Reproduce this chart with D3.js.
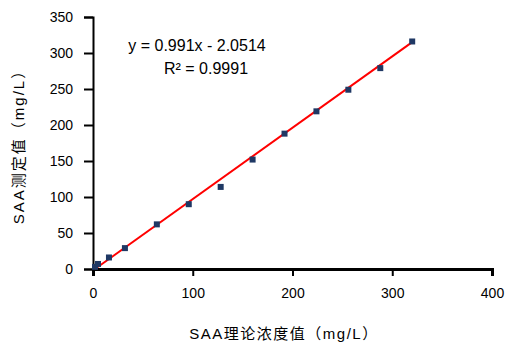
<!DOCTYPE html>
<html><head><meta charset="utf-8">
<script src="https://cdn.jsdelivr.net/npm/d3@7"></script>
<style>body{margin:0;background:#fff;} text{font-family:"Liberation Sans","Noto Sans CJK SC",sans-serif;}</style>
</head><body>
<svg id="c" width="510" height="350"></svg>
<script>
const xValues = [2, 5, 16, 32, 64, 96, 128, 160, 192, 224, 256, 288, 320];
const yValues = [3, 7, 16, 29, 62, 90, 114, 152, 188, 219, 249, 279, 316];
const xTicks = [0, 100, 200, 300, 400];
const yTicks = [0, 50, 100, 150, 200, 250, 300, 350];
const slope = 0.991, intercept = -2.0514;
const eqText = "y = 0.991x - 2.0514";
const r2Text = "R² = 0.9991";
const xTitle = "SAA理论浓度值（mg/L）";
const yTitle = "SAA测定值（mg/L）";

const svg = d3.select("#c");
const m = {l:93, r:18, t:17, b:81};
const W = 510, H = 350;
const x = d3.scaleLinear().domain([0,400]).range([m.l, W-m.r]);
const y = d3.scaleLinear().domain([0,350]).range([H-m.b, m.t]);

const gx = svg.append("g").attr("transform",`translate(0,${H-m.b})`)
  .call(d3.axisBottom(x).tickValues(xTicks).tickSize(7).tickPadding(12));
gx.select(".domain").attr("stroke","#000").attr("stroke-width",3);
gx.selectAll("line").attr("stroke-width",2);
gx.selectAll("text").attr("font-size",14).attr("fill","#000");

const gy = svg.append("g").attr("transform",`translate(${m.l},0)`)
  .call(d3.axisLeft(y).tickValues(yTicks).tickSize(9).tickPadding(11));
gy.select(".domain").attr("stroke","#000").attr("stroke-width",2);
gy.selectAll("line").attr("stroke-width",2);
gy.selectAll("text").attr("font-size",14).attr("fill","#000");

const xmin = d3.min(xValues), xmax = d3.max(xValues);
svg.append("line")
  .attr("x1",x(xmin)).attr("y1",y(slope*xmin+intercept))
  .attr("x2",x(xmax)).attr("y2",y(slope*xmax+intercept))
  .attr("stroke","#ff0000").attr("stroke-width",2);

svg.append("g").selectAll("rect").data(xValues.map((v,i)=>[v,yValues[i]])).join("rect")
  .attr("x",d=>x(d[0])-3).attr("y",d=>y(d[1])-3).attr("width",6).attr("height",6)
  .attr("fill","#1f3864");

svg.append("text").attr("x",197).attr("y",51).attr("text-anchor","middle")
  .attr("font-size",16).text(eqText);
svg.append("text").attr("x",206).attr("y",74).attr("text-anchor","middle")
  .attr("font-size",16).text(r2Text);

svg.append("text").attr("x",284).attr("y",339).attr("text-anchor","middle")
  .attr("font-size",15).attr("letter-spacing",1.5).text(xTitle);
svg.append("text").attr("transform",`translate(24,${(m.t+H-m.b)/2}) rotate(-90)`)
  .attr("text-anchor","middle").attr("font-size",15).attr("letter-spacing",2).text(yTitle);
</script>
</body></html>
